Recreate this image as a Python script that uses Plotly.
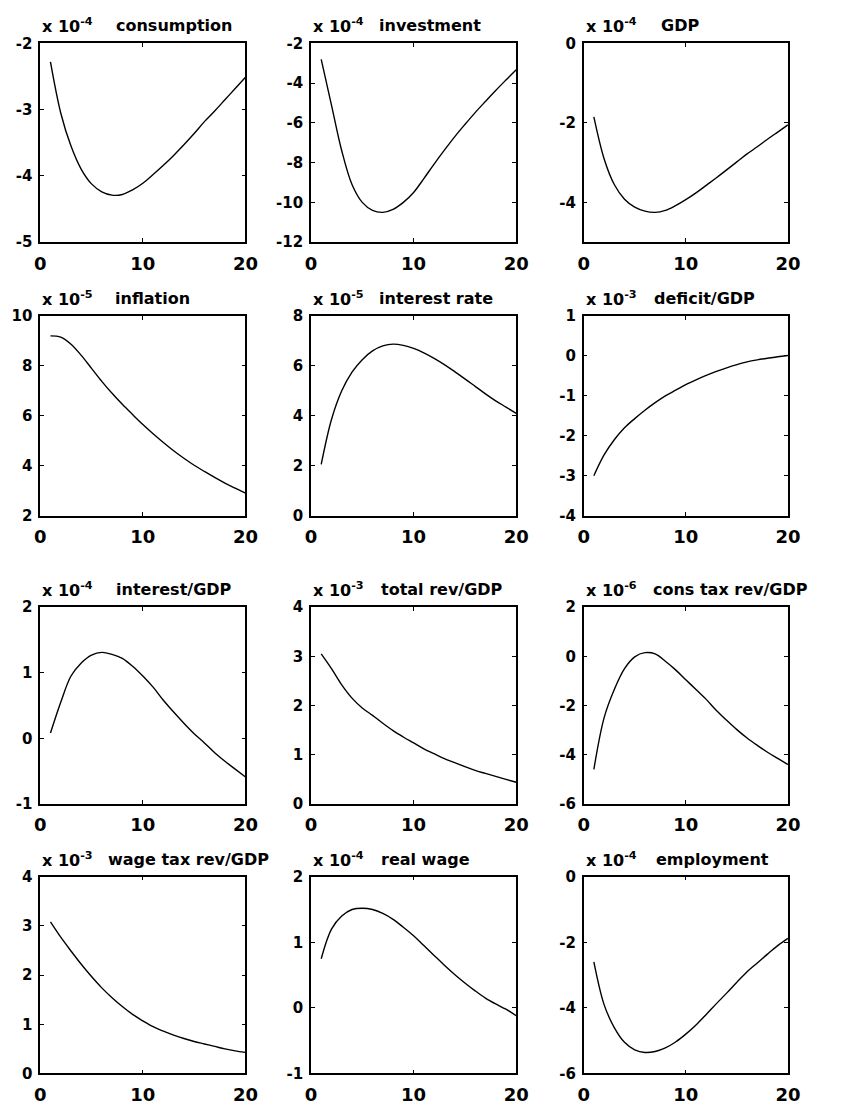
import plotly.graph_objects as go

periods = list(range(1, 21))

titles = ["consumption", "investment", "GDP",
          "inflation", "interest rate", "deficit/GDP",
          "interest/GDP", "total rev/GDP", "cons tax rev/GDP",
          "wage tax rev/GDP", "real wage", "employment"]
exponents = [-4, -4, -4, -5, -5, -3, -4, -3, -6, -3, -4, -4]

consumption = [-2.28, -3.05, -3.55, -3.90, -4.12, -4.24, -4.29, -4.28, -4.21, -4.11,
               -3.98, -3.84, -3.69, -3.53, -3.36, -3.18, -3.02, -2.85, -2.68, -2.51]
investment = [-2.8, -5.1, -7.4, -9.1, -10.0, -10.4, -10.5, -10.35, -10.0, -9.5,
              -8.8, -8.07, -7.37, -6.7, -6.08, -5.48, -4.92, -4.37, -3.84, -3.32]
gdp = [-1.85, -2.9, -3.55, -3.92, -4.12, -4.22, -4.25, -4.2, -4.08, -3.93,
       -3.76, -3.57, -3.38, -3.18, -2.98, -2.78, -2.6, -2.41, -2.23, -2.05]
inflation = [9.2, 9.15, 8.87, 8.42, 7.9, 7.38, 6.9, 6.46, 6.05, 5.65,
             5.28, 4.93, 4.6, 4.3, 4.02, 3.77, 3.53, 3.3, 3.1, 2.9]
interest_rate = [2.05, 3.85, 5.0, 5.75, 6.25, 6.6, 6.8, 6.87, 6.82, 6.7,
                 6.52, 6.3, 6.05, 5.77, 5.48, 5.18, 4.88, 4.6, 4.35, 4.1]
deficit_gdp = [-3.0, -2.48, -2.1, -1.8, -1.57, -1.36, -1.17, -1.0, -0.86, -0.72,
               -0.6, -0.49, -0.39, -0.3, -0.22, -0.15, -0.1, -0.06, -0.02, 0.01]
interest_gdp = [0.08, 0.55, 0.95, 1.15, 1.27, 1.31, 1.28, 1.22, 1.10, 0.95,
                0.78, 0.58, 0.40, 0.23, 0.07, -0.07, -0.22, -0.35, -0.47, -0.59]
total_rev_gdp = [3.05, 2.75, 2.42, 2.15, 1.95, 1.8, 1.64, 1.49, 1.36, 1.24,
                 1.12, 1.02, 0.92, 0.84, 0.76, 0.68, 0.62, 0.56, 0.5, 0.44]
cons_tax_rev_gdp = [-4.6, -2.5, -1.35, -0.5, -0.02, 0.15, 0.1, -0.2, -0.55, -0.95,
                    -1.35, -1.75, -2.2, -2.6, -2.98, -3.32, -3.62, -3.9, -4.15, -4.4]
wage_tax_rev_gdp = [3.08, 2.77, 2.49, 2.22, 1.97, 1.74, 1.54, 1.36, 1.2, 1.07,
                    0.95, 0.86, 0.78, 0.71, 0.65, 0.6, 0.55, 0.5, 0.46, 0.43]
real_wage = [0.75, 1.2, 1.4, 1.5, 1.52, 1.5, 1.44, 1.35, 1.23, 1.1,
             0.95, 0.8, 0.65, 0.51, 0.38, 0.26, 0.15, 0.06, -0.02, -0.12]
employment = [-2.6, -3.9, -4.6, -5.05, -5.28, -5.36, -5.33, -5.22, -5.04, -4.8,
              -4.52, -4.2, -3.87, -3.55, -3.22, -2.9, -2.63, -2.36, -2.1, -1.88]

series = [consumption, investment, gdp, inflation, interest_rate, deficit_gdp,
          interest_gdp, total_rev_gdp, cons_tax_rev_gdp, wage_tax_rev_gdp,
          real_wage, employment]

y_ranges = [(-5, -2), (-12, -2), (-5, 0), (2, 10), (0, 8), (-4, 1),
            (-1, 2), (0, 4), (-6, 2), (0, 4), (-1, 2), (-6, 0)]
y_ticks = [[-5, -4, -3, -2], [-12, -10, -8, -6, -4, -2], [-4, -2, 0],
           [2, 4, 6, 8, 10], [0, 2, 4, 6, 8], [-4, -3, -2, -1, 0, 1],
           [-1, 0, 1, 2], [0, 1, 2, 3, 4], [-6, -4, -2, 0, 2],
           [0, 1, 2, 3, 4], [-1, 0, 1, 2], [-6, -4, -2, 0]]
x_ticks = [0, 10, 20]

# layout (pixels)
W, H = 841, 1111
col_px = [(35, 245), (312, 522), (591, 800)]
row_px = [(35, 237), (312, 515), (608, 808), (882, 1082)]
title_offsets = [75, 68, 77, 74, 68, 70, 75, 70, 69, 67, 70, 72]

fig = go.Figure()
layout = dict(width=W, height=H, margin=dict(l=0, r=0, t=0, b=0),
              paper_bgcolor="white", plot_bgcolor="white", showlegend=False)
annotations = []

tick_font_y = dict(family="DejaVu Sans", size=15, color="black", weight="bold")
tick_font_x = dict(family="DejaVu Sans", size=18, color="black", weight="bold")

for i in range(12):
    r, c = divmod(i, 3)
    x0, x1 = col_px[c]
    ytop, ybot = row_px[r]
    xd = [x0 / W, x1 / W]
    yd = [1 - ybot / H, 1 - ytop / H]
    n = i + 1
    xa = "x" if n == 1 else f"x{n}"
    ya = "y" if n == 1 else f"y{n}"
    fig.add_trace(go.Scatter(x=periods, y=series[i], mode="lines",
                             line=dict(color="black", width=1.4, shape="spline",
                                       smoothing=1.0),
                             xaxis=xa, yaxis=ya, hoverinfo="skip"))
    layout[f"xaxis{n}"] = dict(domain=xd, anchor=ya, range=[0, 20],
                               tickmode="array", tickvals=x_ticks,
                               ticktext=[str(v) for v in x_ticks],
                               ticks="inside", ticklen=4, tickcolor="black",
                               showline=True, linecolor="black", linewidth=1.5,
                               mirror="allticks", showgrid=False, zeroline=False,
                               tickfont=tick_font_x, ticklabelstandoff=4)
    layout[f"yaxis{n}"] = dict(domain=yd, anchor=xa, range=list(y_ranges[i]),
                               tickmode="array", tickvals=y_ticks[i],
                               ticktext=[str(v) for v in y_ticks[i]],
                               ticks="inside", ticklen=4, tickcolor="black",
                               showline=True, linecolor="black", linewidth=1.5,
                               mirror="allticks", showgrid=False, zeroline=False,
                               tickfont=tick_font_y, ticklabelstandoff=3)
    annotations.append(dict(xref="paper", yref="paper", x=x0 / W, y=1 - ytop / H,
                            xanchor="left", yanchor="bottom", yshift=5,
                            text=f"<b>x 10<sup>{exponents[i]}</sup></b>",
                            showarrow=False,
                            font=dict(family="DejaVu Sans", size=16, color="black")))
    annotations.append(dict(xref="paper", yref="paper",
                            x=(x0 + title_offsets[i]) / W, y=1 - ytop / H,
                            xanchor="left", yanchor="bottom", yshift=6,
                            text=f"<b>{titles[i]}</b>", showarrow=False,
                            font=dict(family="DejaVu Sans", size=16, color="black")))

layout["annotations"] = annotations
fig.update_layout(**layout)
fig.write_html("out.html")
